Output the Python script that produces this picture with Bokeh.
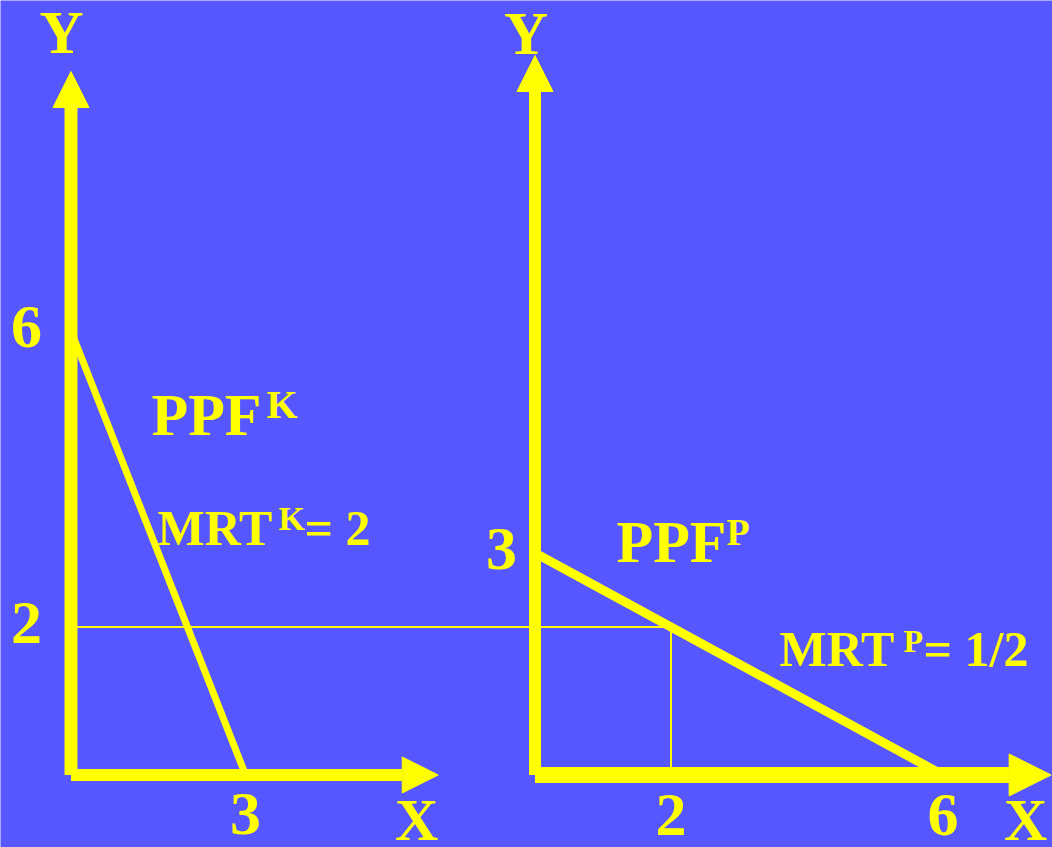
from bokeh.plotting import figure
from bokeh.models import Range1d, Arrow, NormalHead, Label
from bokeh.embed import file_html
from bokeh.resources import INLINE

# ---------------- data ----------------
# Kingdom K: production possibility frontier (X, Y)
ppf_k_x = [0, 3]
ppf_k_y = [6, 0]
# Kingdom P: production possibility frontier (X, Y)
ppf_p_x = [0, 6]
ppf_p_y = [3, 0]
# tick values shown on each panel
k_y_ticks = [6, 2]
k_x_ticks = [3]
p_y_ticks = [3]
p_x_ticks = [2, 6]
# common Y level and matching X on PPF^P
common_y = 2
p_common_x = 2
# label texts
k_name, k_sup, k_mrt = "PPF", "K", "= 2"
p_name, p_sup, p_mrt = "PPF", "P", "= 1/2"

# ---------------- style / layout ----------------
BG = "#5757FF"
YEL = "#FFFF00"
FONT = "Liberation Serif"
W, H = 1052, 847

LX = (-1.2113, 16.864)   # left panel x range
RX = (-7.860, 7.610)     # right panel x range
YR = (-0.980, 10.466)    # shared y range

p = figure(width=W, height=H, output_backend="svg", toolbar_location=None,
           title=None, x_range=Range1d(*LX), y_range=Range1d(*YR),
           x_axis_location=None, y_axis_location=None,
           background_fill_color=BG, border_fill_color=BG,
           outline_line_color=None, min_border=0)
p.grid.visible = False
p.extra_x_ranges = {"right": Range1d(*RX)}


def left_to_right_x(x):
    frac = (x - LX[0]) / (LX[1] - LX[0])
    return RX[0] + frac * (RX[1] - RX[0])


# thin guide lines: Y = 2 across both panels, X = 2 on the right
p.line([left_to_right_x(0), p_common_x], [common_y, common_y],
       x_range_name="right", line_color=YEL, line_width=2)
p.line([p_common_x, p_common_x], [0, common_y],
       x_range_name="right", line_color=YEL, line_width=2)

# PPF lines
p.line(ppf_k_x, ppf_k_y, line_color=YEL, line_width=7)
p.line(ppf_p_x, ppf_p_y, x_range_name="right", line_color=YEL, line_width=9)


def axis_arrow(x0, y0, x1, y1, lw, size, rng="default"):
    p.add_layout(Arrow(x_start=x0, y_start=y0, x_end=x1, y_end=y1,
                       line_color=YEL, line_width=lw,
                       end=NormalHead(size=size, fill_color=YEL, line_color=YEL),
                       x_range_name=rng))


# axes with arrow heads
axis_arrow(0, 0, 0, 9.507, 13, 36)
axis_arrow(0, 0, 6.31, 0, 12, 36)
axis_arrow(0, 0, 0, 9.723, 12, 36, "right")
axis_arrow(0, 0, 7.59, 0, 16, 42, "right")


def lab(text, x, y, size, dx=0, dy=0, align="left", rng="default"):
    # dy is the wanted rise of the text baseline above the anchor (pixels)
    p.add_layout(Label(x=x, y=y, text=text, x_offset=dx,
                       y_offset=dy + 0.4 * size,
                       text_font=FONT, text_font_style="bold",
                       text_font_size=f"{size}px", text_color=YEL,
                       text_align=align, text_baseline="alphabetic",
                       x_range_name=rng))


# axis names
lab("Y", 0, 9.507, 61, dx=-9.5, dy=14.5, align="center")
lab("X", 6.31, 0, 60, dx=-21.5, dy=-69, align="center")
lab("Y", 0, 9.723, 61, dx=-9, dy=-2.5, align="center", rng="right")
lab("X", 7.59, 0, 60, dx=-25.5, dy=-69, align="center", rng="right")

# tick labels
for v in k_y_ticks:
    lab(str(v), 0, v, 62, dx=-29, dy=-21, align="right")
for v in k_x_ticks:
    lab(str(v), v, 0, 62, dy=-63.5, align="center")
for v in p_y_ticks:
    lab(str(v), 0, v, 62, dx=-18, dy=-21, align="right", rng="right")
for v in p_x_ticks:
    lab(str(v), v, 0, 62, dy=-64.5, align="center", rng="right")

# PPF^K and MRT^K
lab(k_name, 1.383, 4.547, 60)
lab(k_sup, 1.383, 4.547, 40, dx=115, dy=18)
lab("MRT", 1.486, 3.074, 50)
lab(k_sup, 1.486, 3.074, 34, dx=121, dy=15)
lab(k_mrt, 1.486, 3.074, 50, dx=147)

# PPF^P and MRT^P
lab(p_name, 1.199, 2.818, 60, rng="right")
lab(p_sup, 1.199, 2.818, 38, dx=110, dy=19, rng="right")
lab("MRT", 3.596, 1.426, 50, rng="right")
lab(p_sup, 3.596, 1.426, 32, dx=124, dy=16, rng="right")
lab(p_mrt, 3.596, 1.426, 50, dx=144, rng="right")

open("out.html", "w").write(file_html(p, INLINE))
